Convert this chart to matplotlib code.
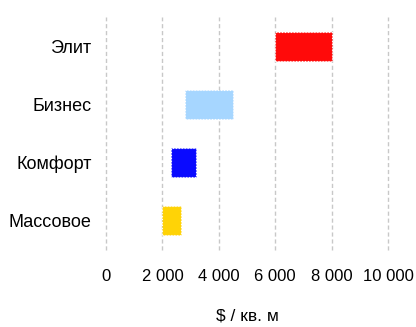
import matplotlib.pyplot as plt

plt.rcParams['font.family'] = ['Liberation Sans', 'DejaVu Sans']

categories = ['Массовое', 'Комфорт', 'Бизнес', 'Элит']
price_from = [2000, 2300, 2800, 6000]
price_to = [2650, 3200, 4500, 8000]
colors = ['#FFD306', '#0A0AFF', '#A6D6FF', '#FF0A0A']
ticks = [0, 2000, 4000, 6000, 8000, 10000]

fig = plt.figure(figsize=(4.16, 3.27), dpi=100)
ax = fig.add_axes([0.2548, 0.2355, 0.678, 0.7125])

widths = [b - a for a, b in zip(price_from, price_to)]
ax.barh(range(len(categories)), widths, left=price_from, height=0.5,
        color=colors, edgecolor='white', linewidth=0.8, linestyle=':', zorder=3)

ax.set_xlim(0, 10000)
ax.set_ylim(-0.5, len(categories) - 0.5)
ax.set_xticks(ticks)
ax.set_xticklabels([f'{t:,}'.replace(',', ' ') for t in ticks])
ax.set_yticks(range(len(categories)))
ax.set_yticklabels(categories)
ax.tick_params(axis='both', length=0)
ax.tick_params(axis='x', pad=14, labelsize=12)
ax.tick_params(axis='y', pad=10.5, labelsize=13)
ax.grid(axis='x', color='#c8c8c8', linestyle=(0, (3, 2)), linewidth=1, zorder=0)
# keep the edge gridlines whole
for gl in ax.get_xgridlines():
    gl.set_clip_on(False)
for s in ax.spines.values():
    s.set_visible(False)
ax.set_xlabel('$ / кв. м', fontsize=12.5, labelpad=17)

fig.savefig('out.png', dpi=100)
